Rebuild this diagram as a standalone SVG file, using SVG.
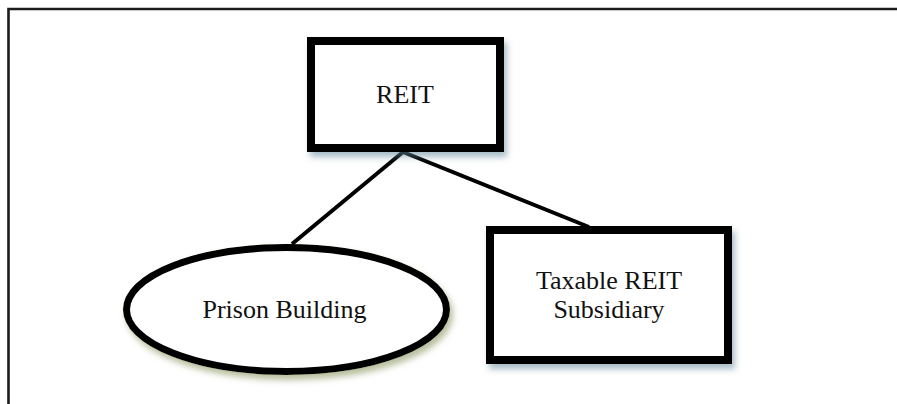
<svg xmlns="http://www.w3.org/2000/svg" width="897" height="404" viewBox="0 0 897 404">
  <style>
    .frame { fill: none; stroke: #1c1c1c; stroke-width: 2.6; }
    .box { fill: #ffffff; stroke: #000000; stroke-width: 8; }
    .oval { fill: #ffffff; stroke: #000000; stroke-width: 7; }
    .conn { stroke: #000000; stroke-width: 4; fill: none; }
    .lbl { font-family: "Liberation Serif", "Times New Roman", serif; font-size: 26px; fill: #111111; text-anchor: middle; }
  </style>
  <defs>
    <filter id="shBlue" x="-20%" y="-20%" width="150%" height="150%">
      <feGaussianBlur in="SourceAlpha" stdDeviation="3"/>
      <feOffset dx="3" dy="5" result="b"/>
      <feFlood flood-color="#5f8596" flood-opacity="0.55"/>
      <feComposite in2="b" operator="in" result="s"/>
      <feMerge><feMergeNode in="s"/><feMergeNode in="SourceGraphic"/></feMerge>
    </filter>
    <filter id="shGreen" x="-20%" y="-20%" width="150%" height="150%">
      <feGaussianBlur in="SourceAlpha" stdDeviation="3"/>
      <feOffset dx="3" dy="5" result="b"/>
      <feFlood flood-color="#7d8a4e" flood-opacity="0.55"/>
      <feComposite in2="b" operator="in" result="s"/>
      <feMerge><feMergeNode in="s"/><feMergeNode in="SourceGraphic"/></feMerge>
    </filter>
  </defs>
  <rect width="897" height="404" fill="#ffffff"/>
  <path class="frame" d="M 8.5 404 L 8.5 9 L 897 9"/>

  <g id="connectors">
    <line class="conn" x1="403" y1="152" x2="292" y2="244"/>
    <line class="conn" x1="403" y1="152" x2="589" y2="227"/>
  </g>

  <g id="reit">
    <rect class="box" x="311" y="41" width="189" height="107" filter="url(#shBlue)"/>
    <text class="lbl" x="405" y="103">REIT</text>
  </g>

  <g id="prison-building">
    <ellipse class="oval" cx="286.5" cy="309.5" rx="160" ry="62" filter="url(#shGreen)"/>
    <text class="lbl" x="284.5" y="318">Prison Building</text>
  </g>

  <g id="taxable-reit-subsidiary">
    <rect class="box" x="490" y="230" width="238" height="130" filter="url(#shBlue)"/>
    <text class="lbl" x="609" y="289">Taxable REIT</text>
    <text class="lbl" x="609" y="318">Subsidiary</text>
  </g>
</svg>
